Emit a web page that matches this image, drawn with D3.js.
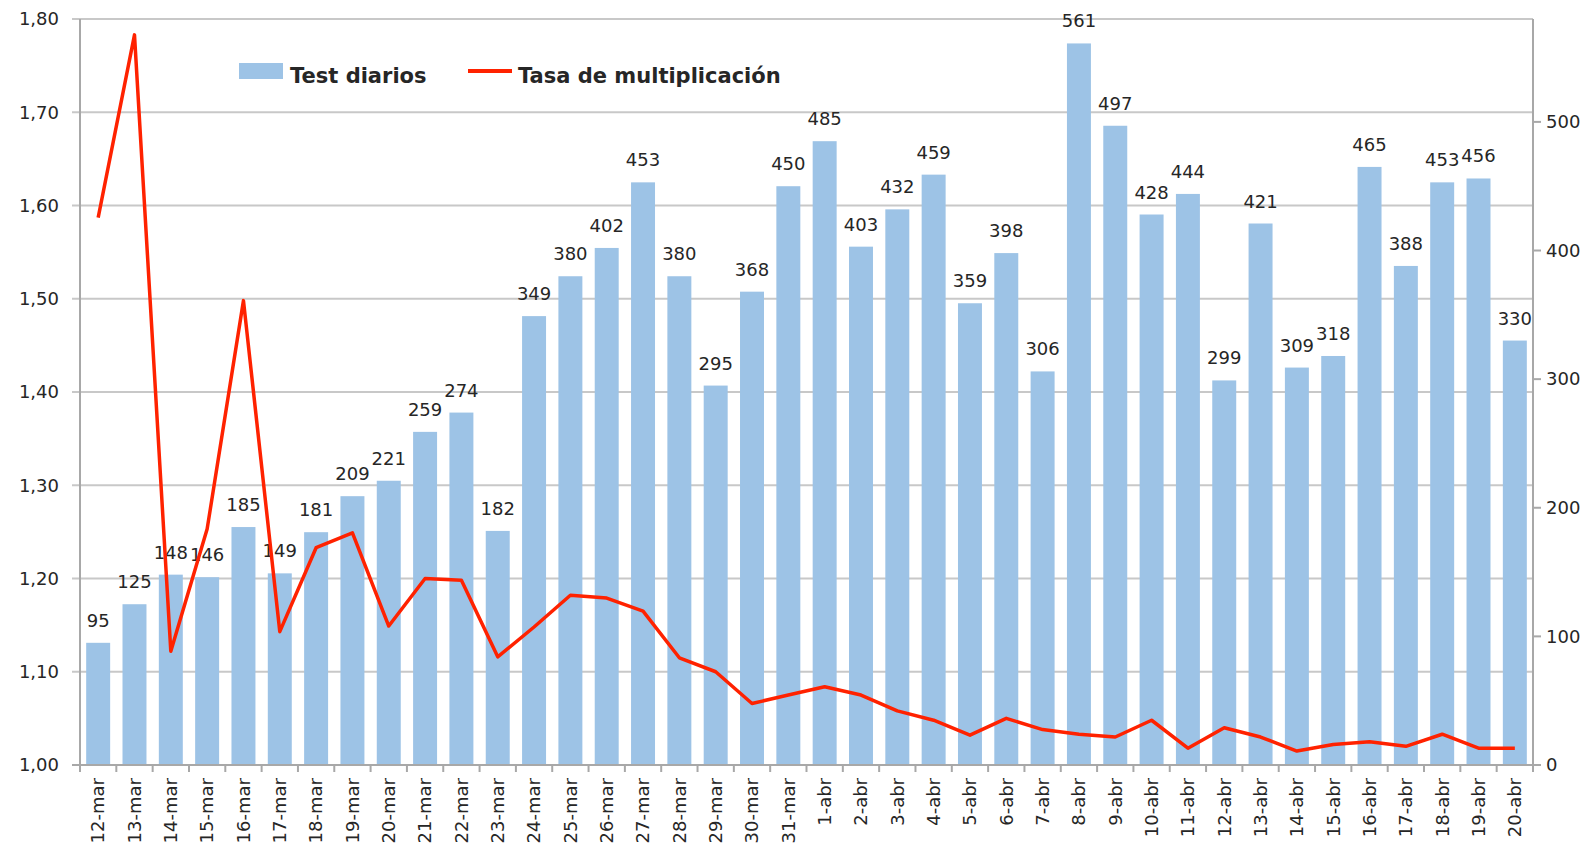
<!DOCTYPE html>
<html>
<head>
<meta charset="utf-8">
<script src="https://cdn.jsdelivr.net/npm/d3@7"></script>
<style>
  body { margin: 0; background: #fff; }
  svg { display: block; }
  text { font-family: "DejaVu Sans", Verdana, sans-serif; fill: #262626; }
</style>
</head>
<body>
<div id="chart"></div>
<script>
const width = 1596, height = 855;

// datos
const dias = ['12-mar','13-mar','14-mar','15-mar','16-mar','17-mar','18-mar','19-mar','20-mar','21-mar',
  '22-mar','23-mar','24-mar','25-mar','26-mar','27-mar','28-mar','29-mar','30-mar','31-mar',
  '1-abr','2-abr','3-abr','4-abr','5-abr','6-abr','7-abr','8-abr','9-abr','10-abr',
  '11-abr','12-abr','13-abr','14-abr','15-abr','16-abr','17-abr','18-abr','19-abr','20-abr'];
const testDiarios = [95,125,148,146,185,149,181,209,221,259,
  274,182,349,380,402,453,380,295,368,450,
  485,403,432,459,359,398,306,561,497,428,
  444,299,421,309,318,465,388,453,456,330];
const tasaMultiplicacion = [1.587,1.783,1.122,1.253,1.498,1.143,1.233,1.249,1.149,1.200,
  1.198,1.116,1.148,1.182,1.179,1.165,1.115,1.100,1.066,1.075,
  1.084,1.075,1.058,1.048,1.032,1.050,1.038,1.033,1.030,1.048,
  1.018,1.040,1.030,1.015,1.022,1.025,1.020,1.033,1.018,1.018];
const ticksIzq = [1.0,1.1,1.2,1.3,1.4,1.5,1.6,1.7,1.8];
const ticksDer = [0,100,200,300,400,500];

const plotLeft = 80, plotRight = 1533, plotTop = 19, plotBottom = 765;

const svg = d3.select('#chart').append('svg')
  .attr('width', width).attr('height', height);

const x = d3.scaleBand().domain(dias).range([plotLeft, plotRight])
  .paddingInner(0.34).paddingOuter(0.17);
const yL = d3.scaleLinear().domain([1.0, 1.8]).range([plotBottom, plotTop]);
const yR = d3.scaleLinear().domain([0, 580]).range([plotBottom, plotTop]);
const fmt = d => d3.format('.2f')(d).replace('.', ',');

// lineas de rejilla (y marcas del eje izquierdo)
svg.append('g').selectAll('line')
  .data(ticksIzq.slice(1))
  .enter().append('line')
  .attr('x1', plotLeft - 8).attr('x2', plotRight)
  .attr('y1', d => yL(d)).attr('y2', d => yL(d))
  .attr('stroke', '#c8c8c8').attr('stroke-width', 2);

// barras
svg.append('g').selectAll('rect')
  .data(testDiarios)
  .enter().append('rect')
  .attr('x', (d, i) => x(dias[i]))
  .attr('y', d => yR(d))
  .attr('width', x.bandwidth())
  .attr('height', d => yR(0) - yR(d))
  .attr('fill', '#9dc3e6');

// etiquetas de las barras
svg.append('g').selectAll('text')
  .data(testDiarios)
  .enter().append('text')
  .attr('x', (d, i) => x(dias[i]) + x.bandwidth() / 2)
  .attr('y', d => yR(d) - 16)
  .attr('text-anchor', 'middle')
  .style('font-size', '18px')
  .text(d => d);

// ejes
const ejes = svg.append('g').attr('stroke', '#a8a8a8').attr('stroke-width', 2);
ejes.append('line').attr('x1', plotLeft).attr('x2', plotLeft).attr('y1', plotTop).attr('y2', plotBottom + 7);
ejes.append('line').attr('x1', plotRight).attr('x2', plotRight).attr('y1', plotTop).attr('y2', plotBottom + 7);
ejes.append('line').attr('x1', plotLeft - 8).attr('x2', plotRight + 8).attr('y1', plotBottom).attr('y2', plotBottom);
ejes.selectAll('.tickx')
  .data(d3.range(dias.length + 1))
  .enter().append('line')
  .attr('x1', i => plotLeft + i * x.step()).attr('x2', i => plotLeft + i * x.step())
  .attr('y1', plotBottom).attr('y2', plotBottom + 7);
ejes.selectAll('.ticky')
  .data(ticksDer)
  .enter().append('line')
  .attr('x1', plotRight).attr('x2', plotRight + 8)
  .attr('y1', d => yR(d)).attr('y2', d => yR(d));

// linea de la tasa
const line = d3.line()
  .x((d, i) => x(dias[i]) + x.bandwidth() / 2)
  .y(d => yL(d));
svg.append('path')
  .datum(tasaMultiplicacion)
  .attr('d', line)
  .attr('fill', 'none')
  .attr('stroke', '#ff2200')
  .attr('stroke-width', 3.5)
  .attr('stroke-linejoin', 'round');

// etiquetas de los ejes
svg.append('g').selectAll('text')
  .data(ticksIzq)
  .enter().append('text')
  .attr('x', 59).attr('y', d => yL(d))
  .attr('dy', '0.35em')
  .attr('text-anchor', 'end')
  .style('font-size', '18px')
  .text(fmt);

svg.append('g').selectAll('text')
  .data(ticksDer)
  .enter().append('text')
  .attr('x', 1546).attr('y', d => yR(d))
  .attr('dy', '0.35em')
  .style('font-size', '18px')
  .text(d => d);

svg.append('g').selectAll('text')
  .data(dias)
  .enter().append('text')
  .attr('transform', d => 'translate(' + (x(d) + x.bandwidth() / 2) + ',' + 778 + ') rotate(-90)')
  .attr('dy', '0.35em')
  .attr('text-anchor', 'end')
  .style('font-size', '18px')
  .text(d => d);

// leyenda
const leyenda = svg.append('g');
leyenda.append('rect')
  .attr('x', 239).attr('y', 63).attr('width', 44).attr('height', 16)
  .attr('fill', '#9dc3e6');
leyenda.append('text')
  .attr('x', 290).attr('y', 83)
  .style('font-size', '21px').style('font-weight', 'bold')
  .text('Test diarios');
leyenda.append('line')
  .attr('x1', 468).attr('x2', 512).attr('y1', 71).attr('y2', 71)
  .attr('stroke', '#ff2200').attr('stroke-width', 4);
leyenda.append('text')
  .attr('x', 518).attr('y', 83)
  .style('font-size', '21px').style('font-weight', 'bold')
  .text('Tasa de multiplicación');
</script>
</body>
</html>
